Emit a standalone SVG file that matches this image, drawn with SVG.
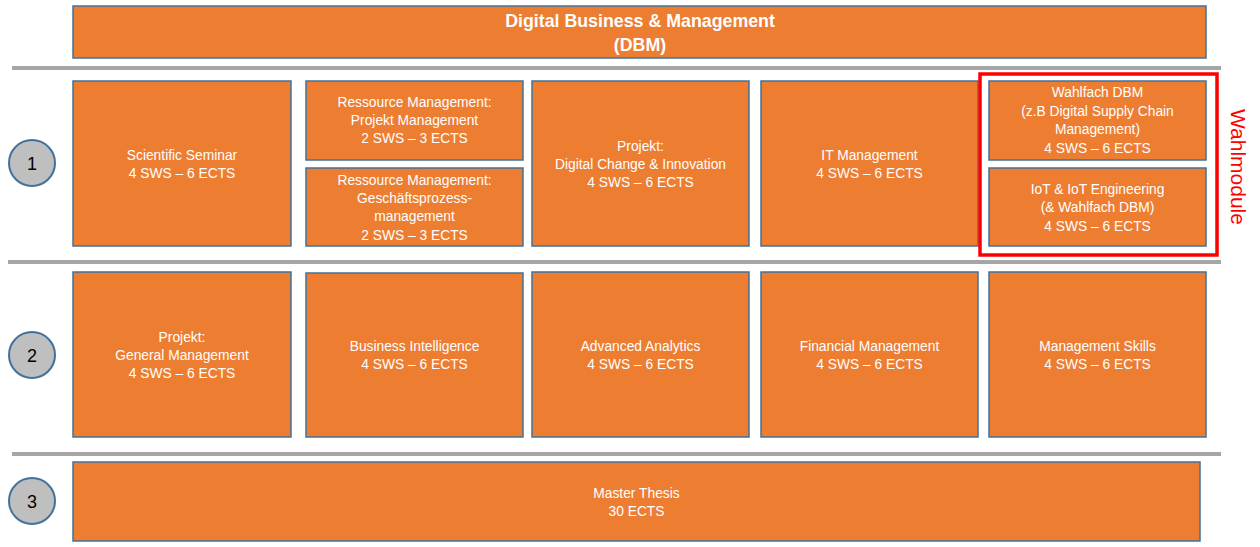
<svg xmlns="http://www.w3.org/2000/svg" width="1260" height="547" viewBox="0 0 1260 547">
<style>
.b{fill:#ED7D31;stroke:#41719C;stroke-width:1.5}
.t{font-family:"Liberation Sans",Arial,sans-serif;font-size:13.8px;fill:#fff;text-anchor:middle}
.h{font-family:"Liberation Sans",Arial,sans-serif;font-size:17.8px;font-weight:bold;fill:#fff;text-anchor:middle}
.sep{stroke:#A6A6A6;stroke-width:4}
.c{fill:#BFBFBF;stroke:#41719C;stroke-width:2}
.n{font-family:"Liberation Sans",Arial,sans-serif;font-size:18px;fill:#000;text-anchor:middle}
</style>
<rect width="1260" height="547" fill="#fff"/>
<g id="separators">
<line class="sep" x1="12" y1="68" x2="1221" y2="68"/>
<line class="sep" x1="8" y1="262" x2="1221" y2="262"/>
<line class="sep" x1="12" y1="454" x2="1221" y2="454"/>
</g>
<g id="title"><rect class="b" x="73" y="6" width="1133" height="52"/>
<text class="h" x="640" y="27">Digital Business &amp; Management</text>
<text class="h" x="640" y="51">(DBM)</text></g>
<g id="sem1"><circle class="c" cx="32" cy="163" r="23"/><text class="n" x="32" y="170">1</text></g>
<g id="sem2"><circle class="c" cx="32" cy="355" r="23"/><text class="n" x="32" y="362">2</text></g>
<g id="sem3"><circle class="c" cx="32" cy="501" r="23"/><text class="n" x="32" y="508">3</text></g>
<g id="scientific"><rect class="b" x="73" y="81" width="218" height="165"/>
<text class="t" x="182" y="160">Scientific Seminar</text><text class="t" x="182" y="178">4 SWS – 6 ECTS</text></g>
<g id="rm-projekt"><rect class="b" x="306" y="81" width="217" height="79"/>
<text class="t" x="414.5" y="107">Ressource Management:</text><text class="t" x="414.5" y="125">Projekt Management</text><text class="t" x="414.5" y="143">2 SWS – 3 ECTS</text></g>
<g id="rm-gp"><rect class="b" x="306" y="168" width="217" height="78"/>
<text class="t" x="414.5" y="185">Ressource Management:</text><text class="t" x="414.5" y="203">Geschäftsprozess-</text><text class="t" x="414.5" y="221">management</text><text class="t" x="414.5" y="240">2 SWS – 3 ECTS</text></g>
<g id="dci"><rect class="b" x="532" y="81" width="217" height="165"/>
<text class="t" x="640.5" y="151">Projekt:</text><text class="t" x="640.5" y="169">Digital Change &amp; Innovation</text><text class="t" x="640.5" y="187">4 SWS – 6 ECTS</text></g>
<g id="itm"><rect class="b" x="761" y="81" width="217" height="165"/>
<text class="t" x="869.5" y="160">IT Management</text><text class="t" x="869.5" y="178">4 SWS – 6 ECTS</text></g>
<g id="wahlfach"><rect class="b" x="989" y="81" width="217" height="79"/>
<text class="t" x="1097.5" y="97">Wahlfach DBM</text><text class="t" x="1097.5" y="116">(z.B Digital Supply Chain</text><text class="t" x="1097.5" y="134">Management)</text><text class="t" x="1097.5" y="153">4 SWS – 6 ECTS</text></g>
<g id="iot"><rect class="b" x="989" y="168" width="217" height="78"/>
<text class="t" x="1097.5" y="194">IoT &amp; IoT Engineering</text><text class="t" x="1097.5" y="212">(&amp; Wahlfach DBM)</text><text class="t" x="1097.5" y="231">4 SWS – 6 ECTS</text></g>
<g id="wahlmodule"><rect x="980" y="74" width="237" height="181" fill="none" stroke="#FF0000" stroke-width="3.5"/>
<text x="1237" y="167" transform="rotate(90 1237 167)" font-family="'Liberation Sans',Arial,sans-serif" font-size="21" fill="#FF0000" text-anchor="middle" dominant-baseline="middle">Wahlmodule</text></g>
<g id="gm"><rect class="b" x="73" y="272" width="218" height="165"/>
<text class="t" x="182" y="342">Projekt:</text><text class="t" x="182" y="360">General Management</text><text class="t" x="182" y="378">4 SWS – 6 ECTS</text></g>
<g id="bi"><rect class="b" x="306" y="273" width="217" height="164"/>
<text class="t" x="414.5" y="351">Business Intelligence</text><text class="t" x="414.5" y="369">4 SWS – 6 ECTS</text></g>
<g id="aa"><rect class="b" x="532" y="272" width="217" height="165"/>
<text class="t" x="640.5" y="351">Advanced Analytics</text><text class="t" x="640.5" y="369">4 SWS – 6 ECTS</text></g>
<g id="fm"><rect class="b" x="761" y="272" width="217" height="165"/>
<text class="t" x="869.5" y="351">Financial Management</text><text class="t" x="869.5" y="369">4 SWS – 6 ECTS</text></g>
<g id="ms"><rect class="b" x="989" y="272" width="217" height="165"/>
<text class="t" x="1097.5" y="351">Management Skills</text><text class="t" x="1097.5" y="369">4 SWS – 6 ECTS</text></g>
<g id="thesis"><rect class="b" x="73" y="462" width="1127" height="79"/>
<text class="t" x="636.5" y="498">Master Thesis</text><text class="t" x="636.5" y="516">30 ECTS</text></g>
<g id="connectors"/>
</svg>
